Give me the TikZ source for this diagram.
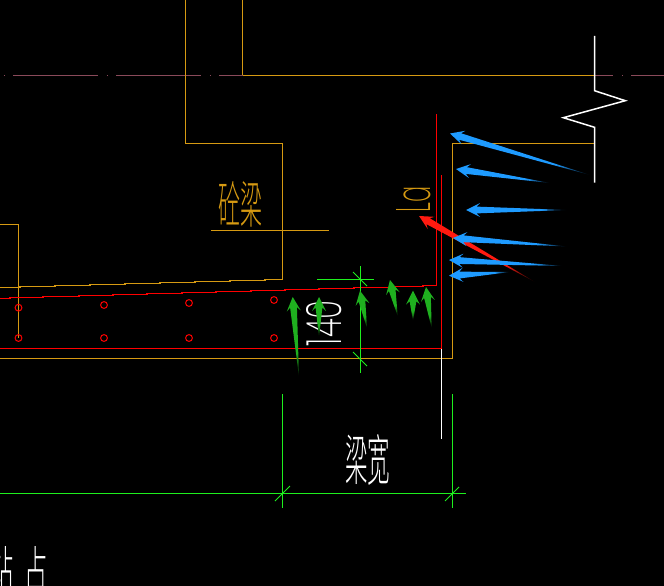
\documentclass[tikz,border=0pt]{standalone}
\usepackage{fontspec}
\usepackage{graphicx}
\newfontfamily\cjk[UprightFont=* Light]{Noto Sans CJK SC}
\newfontfamily\thinlatin[UprightFont=* ExtraLight]{Poppins}
\definecolor{cadorange}{HTML}{D69A12}
\definecolor{cadred}{HTML}{FF0000}
\definecolor{cadgreen}{HTML}{1EF01E}
\definecolor{cadmauve}{HTML}{8A4A5A}
\definecolor{arrowblue}{HTML}{1E9BFF}
\definecolor{arrowgreen}{HTML}{1FB01F}
\definecolor{arrowred}{HTML}{FF1A10}
\pgfdeclarehorizontalshading{fadeblue}{100bp}{color(0bp)=(arrowblue);color(25bp)=(arrowblue);color(62bp)=(arrowblue);color(75bp)=(black);color(100bp)=(black)}
\pgfdeclarehorizontalshading{fadegreen}{100bp}{color(0bp)=(arrowgreen);color(25bp)=(arrowgreen);color(60bp)=(arrowgreen);color(75bp)=(black);color(100bp)=(black)}
\pgfdeclarehorizontalshading{fadered}{100bp}{color(0bp)=(arrowred);color(25bp)=(arrowred);color(62bp)=(arrowred);color(75bp)=(black);color(100bp)=(black)}
\tikzset{
  cad/.style={line width=1.5bp},
  orangeline/.style={cad,draw=cadorange,line join=miter},
  redline/.style={cad,draw=cadred},
  greenline/.style={cad,draw=cadgreen},
  mauveline/.style={cad,draw=cadmauve},
  whiteline/.style={cad,draw=white},
  tick/.style={line width=.8bp,draw=cadgreen},
  rebar/.style={line width=1bp,draw=cadred},
  lbl/.style={inner sep=0pt,outer sep=0pt},
}
\newcommand\gradarrow[5]{%
  \pgfmathsetmacro\arang{atan2(-(#4-#2),#3-#1)}%
  \pgfmathsetmacro\arlen{veclen(#3-#1,#4-#2)}%
  \shade[transform canvas={shift={(#1,#2)},rotate=\arang},shading=#5,shading angle=0]
    (0bp,0bp)--(14bp,7bp)--(10.5bp,3.4bp)--(\arlen bp,0bp)--(10.5bp,-3.4bp)--(14bp,-7bp)--cycle;%
}
\begin{document}
\begin{tikzpicture}[x=1bp,y=-1bp]
\fill[black] (0,0) rectangle (664,586);
\useasboundingbox (0,0) rectangle (664,586);
% axis line
\draw[mauveline] (13,75.5)--(98,75.5) (116,75.5)--(201,75.5) (219,75.5)--(242.5,75.5) (595,75.5)--(613,75.5) (631,75.5)--(664,75.5);
\draw[mauveline] (3.8,75.5)--(5,75.5) (106.8,75.5)--(108,75.5) (209.8,75.5)--(211,75.5) (622,75.5)--(623.2,75.5);
\draw[orangeline] (242.5,75.5)--(595,75.5);
% column and beam outlines
\draw[orangeline] (185.5,0)--(185.5,143.5)--(282.5,143.5)--(282.5,279.5)--(265,279.5)--(265,280.5)--(230,280.5)--(230,281.5)--(195,281.5)--(195,282.5)--(160,282.5)--(160,283.5)--(125,283.5)--(125,284.5)--(90,284.5)--(90,285.5)--(55,285.5)--(55,286.5)--(20,286.5)--(20,287.5)--(0,287.5);
\draw[orangeline] (242.5,0)--(242.5,75.5);
\draw[orangeline] (0,224.5)--(18.5,224.5)--(18.5,338);
\draw[orangeline] (211,230.5)--(329,230.5);
\draw[orangeline] (0,358.5)--(452.5,358.5)--(452.5,143.5)--(595,143.5);
% rebar lines
\draw[redline] (0,348.5)--(441.5,348.5)--(441.5,175);
\draw[whiteline] (441.5,348.5)--(441.5,438.5);
\draw[redline] (0,298.5)--(10,298.5)--(10,297.5)--(43,297.5)--(43,296.5)--(79,296.5)--(79,295.5)--(113,295.5)--(113,294.5)--(147,294.5)--(147,293.5)--(182,293.5)--(182,292.5)--(216,292.5)--(216,291.5)--(251,291.5)--(251,290.5)--(285,290.5)--(285,289.5)--(319,289.5)--(319,288.5)--(354,288.5)--(354,287.5)--(395,287.5)--(395,286.5)--(423,286.5)--(423,285.5)--(436.5,285.5)--(436.5,114);
\foreach \px/\py in {18.5/307.7,104/305,189/303,274/300,18.5/338,104/338,189/338,274/338}
  \draw[rebar] (\px,\py) circle (3.4bp);
% dimension lines
\draw[greenline] (360.5,266)--(360.5,373);
\draw[greenline] (317,279.5)--(374,279.5);
\draw[tick] (353,272)--(367,286);
\draw[tick] (353,352)--(367,366);
\draw[greenline] (282.5,394)--(282.5,508);
\draw[greenline] (452.5,394)--(452.5,508);
\draw[greenline] (0,493.5)--(466,493.5);
\draw[tick] (275,501)--(290,486);
\draw[tick] (445,501)--(459,487);
% break line
\draw[whiteline] (594.5,36)--(594.5,90.7)--(625.3,100.7)--(563.3,117.7)--(594.5,127.3)--(594.5,182.7);
% labels
\node[lbl,text=cadorange] (concrete) at (240,204) {\resizebox{44bp}{42bp}{\cjk 砼梁}};
\node[lbl,text=white] (beamwidth) at (367.5,460) {\resizebox{45bp}{46bp}{\cjk 梁宽}};
\node[lbl,text=white] (bottomtext) at (19,569) {\resizebox{58bp}{42bp}{\cjk 站\hspace{.5em}占}};
\node[lbl,text=white,rotate=90] (dim140) at (324.5,323) {\resizebox{46bp}{35bp}{\thinlatin 140}};
\node[lbl,text=cadorange,rotate=90] (anchorlen) at (414,199) {\resizebox{26bp}{34bp}{\thinlatin La}};
% arrows
\gradarrow{419}{216}{535}{282}{fadered}
\gradarrow{450}{133.5}{590}{175}{fadeblue}
\gradarrow{456}{169}{550}{183}{fadeblue}
\gradarrow{466}{210}{567}{210}{fadeblue}
\gradarrow{453}{238}{567}{246.5}{fadeblue}
\gradarrow{449}{260}{563}{266}{fadeblue}
\gradarrow{449}{275.7}{510}{272}{fadeblue}
\gradarrow{292.7}{297}{299}{377}{fadegreen}
\gradarrow{319}{297}{319}{337}{fadegreen}
\gradarrow{360}{290.7}{367}{328}{fadegreen}
\gradarrow{390}{280}{397.7}{316}{fadegreen}
\gradarrow{413}{290.7}{413}{320.7}{fadegreen}
\gradarrow{426}{287}{431.7}{328}{fadegreen}
\end{tikzpicture}
\end{document}
